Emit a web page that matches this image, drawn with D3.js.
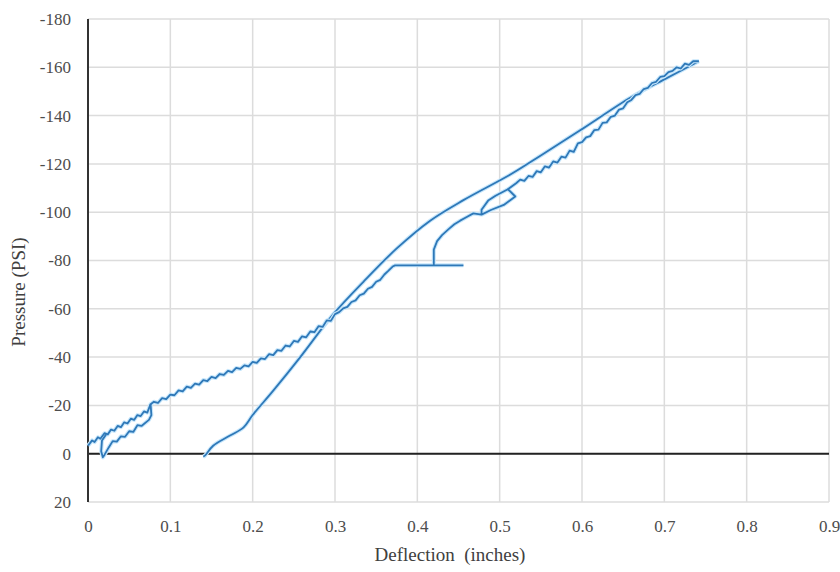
<!DOCTYPE html>
<html>
<head>
<meta charset="utf-8">
<script src="https://cdn.jsdelivr.net/npm/d3@7"></script>
<style>
  body { margin: 0; background: #fff; }
  .tick text { font-family: "Liberation Serif", "Times New Roman", serif; font-size: 17px; fill: #4d4d4d; }
  .axis-title { font-family: "Liberation Serif", "Times New Roman", serif; font-size: 19px; fill: #404040; }
</style>
</head>
<body>
<svg id="chart" width="840" height="572"></svg>
<script>
// tick values
const xTicks = [0, 0.1, 0.2, 0.3, 0.4, 0.5, 0.6, 0.7, 0.8, 0.9];
const yTicks = [-180, -160, -140, -120, -100, -80, -60, -40, -20, 0, 20];

// first loading leg, jagged, from origin to the flat step at -78
const loadingA = [
  [0, -3.3], [0.005, -5.5], [0.008, -4.8], [0.012, -6.8], [0.015, -6.2], [0.02, -8.5],
  [0.024, -8], [0.028, -10], [0.032, -9.5], [0.036, -11.5], [0.04, -11], [0.044, -13],
  [0.048, -12.5], [0.052, -14.5], [0.056, -14], [0.06, -16], [0.064, -15.6], [0.068, -17.5],
  [0.072, -17], [0.076, -20.5], [0.08, -21.5], [0.085, -21], [0.09, -23], [0.095, -22.6],
  [0.1, -24.5], [0.105, -24.2], [0.11, -26.2], [0.115, -25.8], [0.12, -27.8], [0.125, -27.3],
  [0.13, -29], [0.135, -28.6], [0.14, -30.5], [0.145, -30.1], [0.15, -31.8], [0.155, -31.3],
  [0.16, -33], [0.165, -32.6], [0.17, -34.3], [0.175, -33.8], [0.18, -35.5], [0.185, -35.1],
  [0.19, -36.6], [0.195, -36.2], [0.2, -38], [0.205, -37.6], [0.21, -39.5], [0.215, -39.2],
  [0.22, -41.2], [0.225, -40.8], [0.23, -42.9], [0.235, -42.6], [0.24, -44.8], [0.245, -44.4],
  [0.25, -46.7], [0.255, -46.3], [0.26, -48.6], [0.265, -48.2], [0.27, -50.6], [0.275, -50.3],
  [0.28, -52.8], [0.285, -52.5], [0.29, -55.2], [0.295, -55], [0.3, -57.8], [0.305, -58.6],
  [0.31, -60.2], [0.315, -60.8], [0.32, -62.8], [0.325, -63.5], [0.33, -65.6], [0.335, -66.3],
  [0.34, -68.3], [0.345, -69.1], [0.35, -71.2], [0.355, -72], [0.36, -74.2], [0.365, -75.8],
  [0.37, -77.5], [0.373, -78], [0.456, -78]
];

// small unload/reload loop near the origin
const loopA = [
  [0.076, -20.5], [0.077, -16], [0.074, -14], [0.065, -11.5], [0.06, -11.8], [0.055, -9],
  [0.05, -9.3], [0.045, -7], [0.04, -7.2], [0.035, -5], [0.03, -5.2], [0.025, -2.5],
  [0.02, 0.5], [0.018, 1.5], [0.016, -1], [0.017, -5.5], [0.022, -8]
];

// branch rising from the step, with the small loop near 0.5
const branchB = [
  [0.42, -78], [0.42, -84.5], [0.424, -88], [0.43, -90.5], [0.438, -93], [0.445, -95],
  [0.452, -96.5], [0.46, -98], [0.468, -99.5], [0.478, -99], [0.49, -101], [0.505, -103],
  [0.519, -106.5], [0.51, -109.5], [0.495, -106.8], [0.486, -104.8], [0.478, -101], [0.478, -99]
];

// second loading leg up to the peak
const loadingC = [
  [0.51, -109.5], [0.52, -112], [0.525, -113.5], [0.53, -113], [0.535, -115], [0.54, -114.6],
  [0.545, -117], [0.55, -116.5], [0.555, -119], [0.56, -118.5], [0.565, -121], [0.57, -120.5],
  [0.575, -123], [0.58, -122.6], [0.585, -125.5], [0.59, -125], [0.595, -128.5], [0.6, -129],
  [0.605, -131], [0.61, -131.5], [0.615, -134], [0.62, -134.2], [0.625, -137], [0.63, -137.2],
  [0.635, -139.5], [0.64, -140], [0.645, -142.5], [0.65, -143], [0.655, -145.5], [0.66, -146.5],
  [0.665, -148.5], [0.67, -149], [0.675, -151], [0.68, -151.5], [0.685, -153.5], [0.69, -154],
  [0.695, -156], [0.7, -156.3], [0.705, -158], [0.71, -158.5], [0.715, -160], [0.72, -159.5],
  [0.725, -161.5], [0.73, -161], [0.735, -162.5], [0.742, -162.5]
];

// smooth unloading curve from the peak back to zero
const unloading = [
  [0.742, -162.5], [0.7, -155], [0.659, -147.5], [0.6, -134.4], [0.55, -123.5], [0.515, -116],
  [0.456, -105], [0.4156, -96.5], [0.375, -85], [0.3345, -71.2], [0.298, -57.8],
  [0.2576, -39.9], [0.225, -26.1], [0.2, -16], [0.189, -10.9], [0.1725, -7.5], [0.152, -3.3],
  [0.142, 0.8], [0.14, 1.2]
];

const jaggedList = [loadingA, loopA, branchB, loadingC];

const plotLeft = 88, plotRight = 829, plotTop = 19, plotBottom = 502;
const svg = d3.select('#chart');

const x = d3.scaleLinear().domain([0, 0.9]).range([plotLeft, plotRight]);
const y = d3.scaleLinear().domain([-180, 20]).range([plotTop, plotBottom]);

// gridlines
svg.append('g')
  .selectAll('line')
  .data(xTicks)
  .join('line')
  .attr('x1', d => x(d)).attr('x2', d => x(d))
  .attr('y1', plotTop).attr('y2', plotBottom)
  .attr('stroke', '#dcdcdc').attr('stroke-width', 1.5);

svg.append('g')
  .selectAll('line')
  .data(yTicks)
  .join('line')
  .attr('x1', plotLeft).attr('x2', plotRight)
  .attr('y1', d => y(d)).attr('y2', d => y(d))
  .attr('stroke', '#dcdcdc').attr('stroke-width', 1.5);

// axes (labels only, lines drawn separately)
const xAxis = svg.append('g')
  .attr('transform', `translate(0,${plotBottom})`)
  .call(d3.axisBottom(x).tickValues(xTicks).tickSize(0).tickPadding(18)
    .tickFormat(d => d === 0 ? '0' : d3.format('.1f')(d)));
xAxis.select('.domain').remove();

const yAxis = svg.append('g')
  .attr('transform', `translate(${plotLeft},0)`)
  .call(d3.axisLeft(y).tickValues(yTicks).tickSize(0).tickPadding(17)
    .tickFormat(d => String(d)));
yAxis.select('.domain').remove();

// zero line and y axis line
svg.append('line')
  .attr('x1', plotLeft).attr('x2', plotRight)
  .attr('y1', y(0)).attr('y2', y(0))
  .attr('stroke', '#222').attr('stroke-width', 2);

svg.append('line')
  .attr('x1', x(0)).attr('x2', x(0))
  .attr('y1', plotTop).attr('y2', plotBottom)
  .attr('stroke', '#333').attr('stroke-width', 2);

// data lines
const line = d3.line().x(d => x(d[0])).y(d => y(d[1]));
const smooth = d3.line().x(d => x(d[0])).y(d => y(d[1])).curve(d3.curveCatmullRom);

const drawSeries = (gen, data) => {
  const g = svg.append('g');
  g.selectAll('path.halo')
    .data(data)
    .join('path')
    .attr('class', 'halo')
    .attr('d', gen)
    .attr('fill', 'none')
    .attr('stroke', '#c6e6fb')
    .attr('stroke-width', 4)
    .attr('stroke-linejoin', 'round');
  g.selectAll('path.series')
    .data(data)
    .join('path')
    .attr('class', 'series')
    .attr('d', gen)
    .attr('fill', 'none')
    .attr('stroke', '#2e78b8')
    .attr('stroke-width', 1.8)
    .attr('stroke-linejoin', 'round');
};
drawSeries(smooth, [unloading]);
drawSeries(line, jaggedList);

// axis titles
svg.append('text')
  .attr('class', 'axis-title')
  .attr('x', 450).attr('y', 561)
  .attr('text-anchor', 'middle')
  .attr('xml:space', 'preserve')
  .text('Deflection  (inches)');

svg.append('text')
  .attr('class', 'axis-title')
  .attr('transform', 'translate(25,292) rotate(-90)')
  .attr('text-anchor', 'middle')
  .text('Pressure (PSI)');
</script>
</body>
</html>
